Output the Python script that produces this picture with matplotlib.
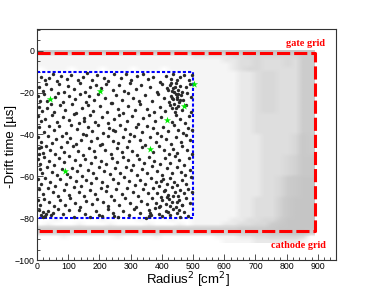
import numpy as np
import matplotlib
matplotlib.use('Agg')
import matplotlib.pyplot as plt
from matplotlib.colors import LinearSegmentedColormap
from matplotlib.ticker import MultipleLocator

# grey events: density (0 = none, 9 = solid grey)
# columns: 36 bins over radius^2 0..890, rows: 2 us bins from 0 down to -92
grey_rows = [
    "777777777777777777777777778888888888",
    "111111111111111111112222233444444466",
    "111111111111111111111111223343334366",
    "111111111111111111111111123343334366",
    "011101110111011101111111123443333366",
] + ["00000000000000000000" + "1111112234433366"] * 10 \
  + ["00000000000000000000" + "1111112233333366"] * 5 \
  + ["00000000000000000000" + "1111112223333476"] * 5 \
  + ["00000000000000000000" + "1111112223334577"] * 5 \
  + ["00000000000000000000" + "1111112223346788"] * 5 \
  + ["00000000000000000000" + "1111112233357888"] * 5 + [
    "001000001000010001001111122334468888",
    "010001000100001000101111223344678888",
    "555555555555555555555555556666788888",
    "555555555555555555555555556666778886",
    "000100000010000100000001112233444430",
    "000000000000000000000000111122222210",
]

# selected events inside the fiducial box (radius^2, -drift time)
black_pts = [
    (12,-12.5),(25,-14),(38,-13),(52,-11.2),(64,-14.5),(78,-12),(95,-13.5),(108,-11.5),(131,-14),(148,-12.3),
    (160,-10.8),(176,-13.8),(192,-11.6),(214,-12.8),(229,-14.6),(247,-11.3),(268,-13.2),(284,-10.9),(301,-14.1),
    (322,-12.2),(339,-11.0),(356,-13.7),(371,-12.4),(395,-14.8),(412,-11.9),(428,-13.3),(437,-11.1),(447,-14.2),
    (459,-12.6),(471,-11.4),(486,-13.9),(497,-11.7),
    (5,-17.5),(18,-19.2),(29,-16.1),(46,-18.3),(71,-15.8),(86,-19.5),(99,-16.9),(117,-18.1),(139,-15.5),
    (154,-19.6),(171,-17.2),(189,-16.4),(206,-17.8),(221,-15.9),(244,-18.7),(262,-16.6),(279,-19.1),(297,-15.4),
    (318,-18.5),(333,-16.2),(362,-17.4),(383,-19.7),(401,-15.7),(418,-17.9),(426,-16.3),(433,-19.4),(441,-17.1),
    (446,-15.3),(452,-18.8),(458,-16.7),(464,-19.8),(476,-17.5),(489,-15.9),
    (3,-21.4),(9,-23.8),(22,-20.6),(33,-24.2),(57,-22.3),(66,-20.4),(83,-24.6),(104,-21.7),(122,-23.1),
    (137,-20.9),(158,-24.4),(167,-21.5),(183,-23.6),(197,-20.7),(219,-22.8),(238,-24.9),(253,-21.2),(273,-23.4),
    (291,-20.3),(309,-22.6),(327,-24.1),(347,-21.1),(368,-23.9),(389,-20.8),(407,-22.4),(422,-24.3),(430,-21.6),
    (437,-23.2),(444,-20.5),(449,-22.9),(455,-24.7),(462,-21.3),(469,-23.5),(481,-20.2),(494,-22.1),
    (7,-26.8),(16,-28.9),(31,-27.3),(44,-25.6),(53,-29.2),(75,-26.1),(91,-28.4),(112,-25.4),(126,-29.6),
    (143,-27.2),(162,-25.8),(179,-28.7),(201,-26.5),(224,-29.3),(241,-25.2),(258,-27.7),(276,-29.8),(293,-26.3),
    (314,-28.1),(331,-25.5),(352,-27.9),(374,-29.4),(393,-26.7),(411,-28.6),(425,-25.9),(434,-27.4),(443,-29.1),
    (451,-26.2),(466,-28.3),(479,-25.7),(492,-29.5),
    (4,-31.2),(12,-33.6),(27,-32.4),(49,-30.7),(63,-34.1),(84,-31.8),(101,-33.2),(119,-30.4),(134,-34.7),
    (151,-32.1),(169,-30.9),(186,-33.9),(209,-31.5),(226,-34.4),(246,-32.7),(264,-30.6),(287,-33.4),(305,-31.1),
    (323,-34.9),(341,-32.3),(358,-30.8),(377,-33.7),(398,-31.6),(431,-34.2),(446,-30.5),(458,-32.8),(473,-34.6),
    (487,-31.3),
    (8,-36.4),(21,-38.7),(37,-35.8),(56,-37.9),(72,-36.1),(93,-39.3),(109,-35.5),(128,-37.6),(146,-39.6),
    (164,-36.3),(177,-38.2),(194,-35.7),(213,-39.1),(232,-36.9),(251,-38.5),(267,-35.3),(283,-37.3),(298,-39.7),
    (316,-36.6),(336,-38.9),(354,-35.9),(371,-37.1),(386,-39.4),(404,-36.2),(419,-38.4),(438,-35.6),(453,-37.7),
    (467,-39.5),(483,-36.8),(496,-38.1),
    (2,-41.3),(14,-43.8),(34,-40.6),(47,-44.2),(61,-42.1),(79,-40.9),(97,-43.6),(106,-41.8),(124,-44.7),
    (141,-42.5),(157,-40.3),(174,-43.1),(191,-41.6),(207,-44.5),(227,-40.8),(243,-42.9),(259,-44.1),(277,-41.2),
    (295,-43.3),(312,-40.5),(329,-42.7),(345,-44.9),(363,-41.4),(381,-43.5),(397,-40.7),(414,-42.3),(429,-44.4),
    (444,-41.1),(461,-43.7),(477,-40.4),(491,-42.6),
    (6,-46.7),(19,-48.9),(28,-45.4),(42,-47.5),(59,-49.2),(77,-46.1),(88,-48.3),(114,-45.7),(132,-47.9),
    (149,-49.6),(166,-46.4),(184,-48.1),(203,-45.2),(218,-47.3),(236,-49.4),(255,-46.6),(272,-48.6),(289,-45.9),
    (306,-47.7),(321,-49.8),(338,-46.2),(372,-48.4),(391,-45.5),(408,-47.2),(423,-49.1),(436,-46.8),(449,-48.7),
    (465,-45.3),(482,-47.6),(498,-49.5),
    (3,-51.6),(11,-53.9),(24,-50.8),(39,-52.7),(54,-54.6),(69,-51.1),(87,-53.3),(103,-50.4),(121,-52.2),
    (138,-54.8),(155,-51.9),(172,-53.6),(187,-50.6),(205,-52.9),(222,-54.3),(240,-51.3),(257,-53.1),(274,-50.7),
    (292,-52.4),(309,-54.5),(326,-51.7),(343,-53.4),(359,-50.9),(376,-52.6),(393,-54.2),(410,-51.4),(427,-53.8),
    (442,-50.5),(456,-52.3),(471,-54.7),(488,-51.2),
    (9,-56.3),(17,-58.6),(32,-55.5),(48,-57.8),(65,-59.4),(81,-56.4),(97,-58.8),(111,-55.8),(129,-57.3),
    (145,-59.7),(163,-56.9),(181,-58.2),(198,-55.4),(216,-57.6),(233,-59.1),(249,-56.1),(266,-58.4),(284,-55.7),
    (302,-57.1),(319,-59.5),(335,-56.7),(351,-58.5),(368,-55.3),(384,-57.4),(399,-59.3),(416,-56.2),(432,-58.3),
    (447,-55.6),(460,-57.9),(474,-59.6),(490,-56.8),
    (4,-61.5),(13,-63.7),(26,-60.6),(43,-62.8),(58,-64.4),(74,-61.2),(92,-63.5),(107,-60.3),(125,-62.1),
    (140,-64.6),(156,-61.8),(173,-63.2),(190,-60.9),(208,-62.6),(225,-64.8),(242,-61.4),(261,-63.4),(279,-60.5),
    (296,-62.4),(313,-64.1),(330,-61.7),(347,-63.8),(364,-60.8),(380,-62.9),(391,-64.5),(403,-61.3),(415,-63.6),
    (426,-60.7),(438,-62.7),(450,-64.3),(463,-61.6),(476,-63.9),(493,-60.4),
    (7,-66.2),(20,-68.4),(36,-65.6),(51,-67.7),(68,-69.5),(85,-66.4),(102,-68.8),(118,-65.3),(135,-67.5),
    (152,-69.2),(169,-66.7),(186,-68.3),(204,-65.8),(220,-67.1),(237,-69.6),(254,-66.3),(271,-68.6),(288,-65.4),
    (307,-67.4),(324,-69.3),(340,-66.1),(357,-68.1),(373,-65.7),(386,-67.8),(397,-69.7),(409,-66.5),(420,-68.7),
    (431,-65.2),(441,-67.3),(452,-69.4),(459,-66.6),(470,-68.2),(484,-65.9),(497,-67.6),
    (2,-71.4),(10,-73.6),(23,-70.7),(40,-72.5),(55,-74.3),(73,-71.2),(90,-73.9),(106,-70.4),(123,-72.8),
    (139,-74.7),(158,-71.6),(176,-73.3),(193,-70.8),(211,-72.2),(229,-74.4),(246,-71.1),(263,-73.7),(281,-70.6),
    (299,-72.9),(317,-74.6),(334,-71.8),(352,-73.4),(369,-70.3),(382,-72.6),(394,-74.1),(402,-71.5),(413,-73.2),
    (422,-70.9),(433,-72.4),(444,-74.8),(455,-71.3),(466,-73.5),(478,-70.5),(489,-72.7),
    (5,-76.3),(12,-78.5),(18,-77.2),(27,-79.1),(35,-76.8),(44,-78.7),(52,-77.6),(67,-75.6),(84,-78.2),
    (101,-76.1),(117,-79.3),(134,-75.9),(153,-77.8),(171,-79.6),(188,-76.4),(207,-78.9),(226,-75.4),(244,-77.5),
    (259,-79.4),(276,-76.7),(294,-78.4),(312,-75.8),(329,-77.3),(348,-79.7),(358,-76.2),(365,-78.6),(379,-75.3),
    (390,-77.9),(401,-79.2),(412,-76.5),(425,-78.3),(437,-75.7),(448,-77.4),(459,-79.5),(471,-76.9),(485,-78.8),
    # denser clumps seen near the upper and lower right of the box
    (429,-15.2),(435,-17.6),(440,-19.9),(447,-22.1),(453,-20.6),(438,-25.3),(445,-27.2),(457,-23.3),
    (421,-18.8),(432,-22.6),(398,-62.3),(408,-66.8),(417,-70.1),(427,-74.3),(436,-69.3),(447,-72.1),
    (455,-76.3),(463,-73.8),(419,-77.1),(392,-74.9),(14,-46.1),(5,-49.3),(20,-79.4),(30,-78.2),
    (360,-78.9),(363,-77.3),(151,-33.6),(243,-37.9),(200,-78.5),(247,-79.0),
]

# highlighted events (green stars)
green_x = [41.6, 202.9, 90.8, 360.9, 415.3, 471.9, 501.8]
green_y = [-23.1, -19.0, -57.4, -47.0, -33.3, -26.6, -16.1]

# grid positions
gate_y = -1.1
cathode_y = -86
wall_r2 = 890
box_r2 = [0, 500]
box_t = [-10, -80]

plt.rcParams['font.family'] = ['Liberation Sans', 'DejaVu Sans']

fig = plt.figure(figsize=(3.74, 2.90), dpi=100)
ax = fig.add_axes([0.0989, 0.1034, 0.7995, 0.7966])

grid = np.array([[int(c) for c in row] for row in grey_rows], dtype=float)
cmap = LinearSegmentedColormap.from_list(
    'greys', [(0, 'white'), (1 / 9, '#f5f5f5'), (3 / 9, '#dedede'), (6 / 9, '#cccccc'), (1, '#c3c3c3')])
ax.imshow(grid, extent=(0, wall_r2, -2 * len(grey_rows), 0), origin='upper', aspect='auto',
          cmap=cmap, vmin=0, vmax=9, interpolation='bilinear', zorder=1)

ax.plot([0, wall_r2, wall_r2, 0], [gate_y, gate_y, cathode_y, cathode_y],
        color='#ff0000', lw=2.2, dashes=(4.3, 1.3), zorder=2)
ax.plot([box_r2[0], box_r2[1], box_r2[1], box_r2[0]], [box_t[0], box_t[0], box_t[1], box_t[1]],
        color='#0000ff', lw=1.5, dashes=(1.5, 1.0), zorder=2)

pts = np.array(black_pts)
ax.scatter(pts[:, 0], pts[:, 1], s=6, c='#2a2a2a', marker='o', linewidths=0, zorder=3)
ax.scatter(green_x, green_y, s=30, c='#00ee00', marker='*', linewidths=0, zorder=4)

ax.text(922, 3.4, 'gate grid', color='#ff0000', fontweight='bold', family='Liberation Serif',
        fontsize=7.4, ha='right', va='center')
ax.text(926, -93, 'cathode grid', color='#ff0000', fontweight='bold', family='Liberation Serif',
        fontsize=7.4, ha='right', va='center')

ax.set_xlim(0, 958)
ax.set_ylim(-100, 10.4)
ax.xaxis.set_major_locator(MultipleLocator(100))
ax.xaxis.set_minor_locator(MultipleLocator(20))
ax.yaxis.set_major_locator(MultipleLocator(20))
ax.yaxis.set_minor_locator(MultipleLocator(5))
ax.tick_params(which='both', direction='in', labelsize=6.3, pad=1.5, color='#333333')
ax.tick_params(which='major', length=4.2, width=0.6)
ax.tick_params(which='minor', length=2.2, width=0.6)
for s in ax.spines.values():
    s.set_linewidth(0.8)
    s.set_color('#333333')

ax.set_xlabel('Radius$^2$ [cm$^2$]', fontsize=9.5)
ax.set_ylabel('-Drift time [µs]', fontsize=9.5)
ax.xaxis.set_label_coords(0.505, -0.045)
ax.yaxis.set_label_coords(-0.068, 0.49)

fig.savefig('out.png', dpi=100)
